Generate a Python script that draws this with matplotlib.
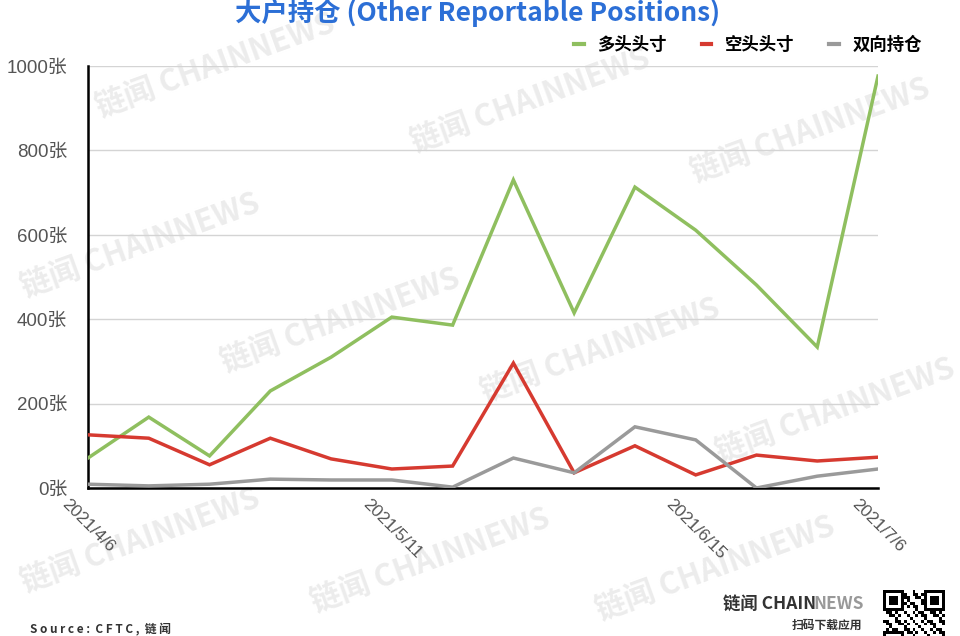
import matplotlib
matplotlib.use("Agg")
import matplotlib.pyplot as plt
import numpy as np

plt.rcParams['font.family'] = ['Noto Sans CJK SC', 'DejaVu Sans']

dates = ['2021/4/6', '2021/4/13', '2021/4/20', '2021/4/27', '2021/5/4', '2021/5/11',
         '2021/5/18', '2021/5/25', '2021/6/1', '2021/6/8', '2021/6/15', '2021/6/22',
         '2021/6/29', '2021/7/6']
long_pos = [71, 168, 76, 230, 310, 405, 386, 730, 415, 713, 611, 481, 334, 976]
short_pos = [126, 118, 55, 118, 69, 45, 52, 296, 36, 100, 31, 78, 64, 73]
spread_pos = [9, 5, 9, 21, 19, 19, 2, 71, 36, 145, 114, 0, 28, 45]
series_names = ['多头头寸', '空头头寸', '双向持仓']
shown_ticks = ['2021/4/6', '2021/5/11', '2021/6/15', '2021/7/6']
y_ticks = [0, 200, 400, 600, 800, 1000]

W, H = 960, 636
fig = plt.figure(figsize=(W / 100, H / 100), dpi=100)
fig.patch.set_facecolor('white')

# background watermark layer
bg = fig.add_axes([0, 0, 1, 1], zorder=-5)
bg.set_xlim(0, W)
bg.set_ylim(H, 0)
bg.axis('off')
wm_centers = [(215, 65), (530, 100), (810, 130), (140, 245), (340, 320), (600, 350),
              (835, 410), (140, 540), (430, 560), (715, 568)]
for cx, cy in wm_centers:
    bg.text(cx, cy, '链闻 CHAINNEWS', fontsize=22, fontweight='bold',
            color='#ececec', rotation=20, ha='center', va='center')

ax = fig.add_axes([88 / W, 148 / H, 790 / W, 422 / H], zorder=2)
ax.set_facecolor('none')
x = np.arange(len(dates))
colors = ['#8fbf5f', '#d63a30', '#9a9a9a']
for vals, c, name in zip([long_pos, short_pos, spread_pos], colors, series_names):
    ax.plot(x, vals, color=c, lw=2.5, label=name, solid_joinstyle='miter', zorder=3)

ax.set_xlim(0, len(dates) - 1)
ax.set_ylim(0, 1000)
ax.set_yticks(y_ticks)
ax.set_yticklabels([f'{v}张' for v in y_ticks], fontsize=13.5, color='#555555',
                   family=['Liberation Sans', 'Noto Sans CJK SC'])
ax.yaxis.grid(True, color='#d4d4d4', lw=1)
ax.set_axisbelow(True)
tick_idx = [dates.index(d) for d in shown_ticks]
ax.set_xticks(tick_idx)
ax.set_xticklabels(shown_ticks, rotation=-45, ha='center', va='top', fontsize=12.5,
                   color='#555555', family=['Liberation Sans', 'DejaVu Sans'])
ax.tick_params(axis='y', length=0, pad=15)
ax.tick_params(axis='x', length=0, pad=6)
for s in ['top', 'right']:
    ax.spines[s].set_visible(False)
ax.spines['left'].set_linewidth(1.8)
ax.spines['bottom'].set_linewidth(1.8)
ax.spines['left'].set_color('black')
ax.spines['bottom'].set_color('black')

leg = fig.legend(loc='center right', bbox_to_anchor=(938 / W, 1 - 45 / H), ncol=3,
                 frameon=False, handlelength=0.55, handletextpad=0.8, columnspacing=2.0,
                 prop={'size': 12.5, 'weight': 'bold'})
for line in leg.get_lines():
    line.set_linewidth(3)

fig.text(478 / W, 1 - 13 / H, '大户持仓 (Other Reportable Positions)', fontsize=19,
         fontweight='bold', color='#2c6fd6', ha='center', va='center')

fig.text(30 / W, 1 - 630 / H, 'S o u r c e :  C F T C ,  链 闻', fontsize=8.5,
         color='#333333', ha='left', va='center', fontweight='bold')

fig.text(723 / W, 1 - 604 / H, '链闻 CHAIN', fontsize=12.5, fontweight='bold',
         color='#333333', ha='left', va='center')
fig.text(813 / W, 1 - 604 / H, 'NEWS', fontsize=12.5, fontweight='bold',
         color='#999999', ha='left', va='center')
fig.text(862 / W, 1 - 625 / H, '扫码下载应用', fontsize=8.5, fontweight='bold',
         color='#333333', ha='right', va='center')

# QR-like decoration
qax = fig.add_axes([883 / W, 0, 62 / W, 46 / H])
n = 21
ii, jj = np.indices((n, n))
pat = (((ii * 7 + jj * 13) % 5 == 0) | ((ii * jj) % 3 == 1)).astype(float)
for (r0, c0) in [(0, 0), (0, n - 7), (n - 7, 0)]:
    pat[r0:r0 + 7, c0:c0 + 7] = 0
    pat[r0, c0:c0 + 7] = 1
    pat[r0 + 6, c0:c0 + 7] = 1
    pat[r0:r0 + 7, c0] = 1
    pat[r0:r0 + 7, c0 + 6] = 1
    pat[r0 + 2:r0 + 5, c0 + 2:c0 + 5] = 1
qax.imshow(pat, cmap='Greys', aspect='auto', interpolation='nearest',
           extent=(0, 1, 0, 1.35))
qax.set_ylim(0.35, 1.35)
qax.axis('off')

fig.savefig('out.png', dpi=100, facecolor='white')
